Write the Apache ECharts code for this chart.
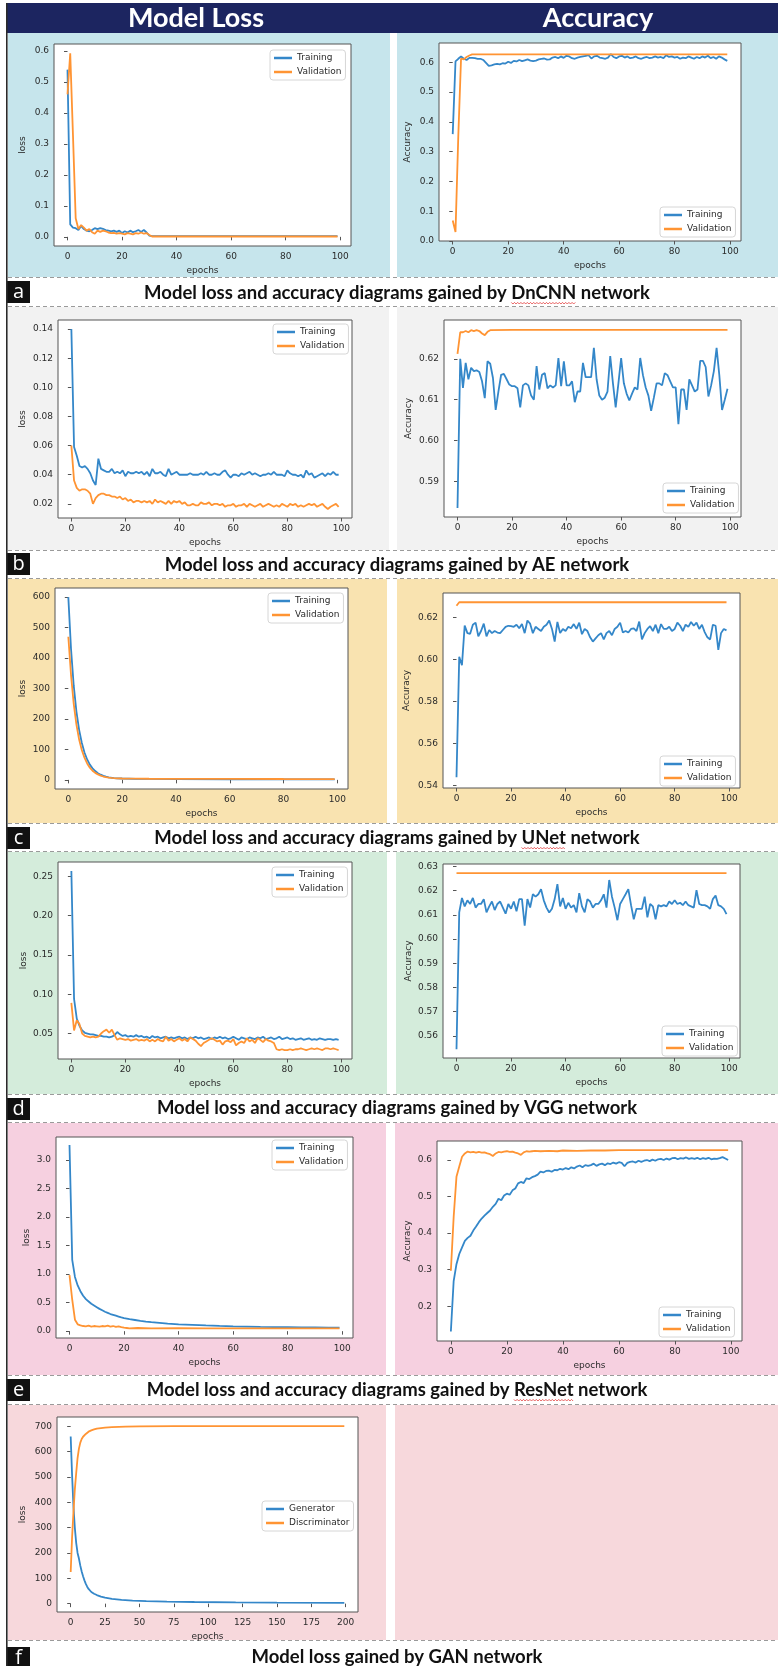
<!DOCTYPE html>
<html><head><meta charset="utf-8">
<script src="https://cdn.jsdelivr.net/npm/echarts@6/dist/echarts.min.js"></script>
<style>html,body{margin:0;padding:0;background:#fff}#c{width:778px;height:1666px}</style>
</head><body><div id="c"></div>
<script>
// ---------------- DATA ----------------
const epochTicks100 = [0, 20, 40, 60, 80, 100];
const epochTicks200 = [0, 25, 50, 75, 100, 125, 150, 175, 200];

const dncnnLossTicks = [0, 0.1, 0.2, 0.3, 0.4, 0.5, 0.6];
const dncnnAccTicks = [0, 0.1, 0.2, 0.3, 0.4, 0.5, 0.6];
const aeLossTicks = [0.02, 0.04, 0.06, 0.08, 0.10, 0.12, 0.14];
const aeAccTicks = [0.59, 0.60, 0.61, 0.62];
const unetLossTicks = [0, 100, 200, 300, 400, 500, 600];
const unetAccTicks = [0.54, 0.56, 0.58, 0.60, 0.62];
const vggLossTicks = [0.05, 0.10, 0.15, 0.20, 0.25];
const vggAccTicks = [0.56, 0.57, 0.58, 0.59, 0.60, 0.61, 0.62, 0.63];
const resnetLossTicks = [0, 0.5, 1.0, 1.5, 2.0, 2.5, 3.0];
const resnetAccTicks = [0.2, 0.3, 0.4, 0.5, 0.6];
const ganLossTicks = [0, 100, 200, 300, 400, 500, 600, 700];

// [epoch, value] pairs
const dncnnLossTrain = [[0,0.54],[1,0.04],[2,0.03],[3,0.028],[4,0.022],[5,0.035],[6,0.025],[7,0.02],[8,0.018],[9,0.022],[10,0.028],[11,0.025],[12,0.028],[13,0.026],[14,0.022],[15,0.02],[16,0.018],[17,0.02],[18,0.016],[19,0.02],[20,0.012],[21,0.018],[22,0.014],[23,0.02],[24,0.015],[25,0.018],[26,0.022],[27,0.016],[28,0.022],[29,0.014],[30,0.004],[31,0.002],[60,0.002],[99,0.002]];
const dncnnLossVal = [[0,0.46],[1,0.593],[2,0.33],[3,0.06],[4,0.025],[5,0.038],[6,0.03],[7,0.02],[8,0.025],[9,0.015],[10,0.01],[11,0.02],[12,0.016],[13,0.02],[14,0.018],[15,0.014],[16,0.012],[17,0.013],[18,0.01],[19,0.012],[20,0.01],[21,0.008],[22,0.012],[23,0.01],[24,0.008],[25,0.012],[26,0.01],[27,0.014],[28,0.01],[29,0.012],[30,0.006],[31,0.001],[60,0.001],[99,0.001]];
// one value per epoch
const dncnnAccTrain = [
.359,.603,.612,.620,.612,.608,.615,.615,.614,.612,
.612,.608,.598,.588,.590,.593,.595,.593,.597,.596,
.602,.598,.605,.603,.608,.604,.607,.610,.606,.604,
.606,.610,.612,.613,.609,.610,.616,.618,.614,.620,
.615,.622,.620,.614,.612,.616,.618,.620,.622,.624,
.613,.620,.622,.616,.614,.612,.616,.628,.618,.614,
.620,.622,.616,.620,.614,.616,.620,.614,.612,.616,
.618,.614,.616,.620,.616,.618,.614,.624,.618,.620,
.616,.618,.612,.616,.614,.620,.616,.612,.618,.614,
.620,.616,.622,.614,.618,.612,.620,.616,.610,.605];
const dncnnAccVal = [[0,0.069],[1,0.03],[2,0.35],[3,0.613],[4,0.61],[5,0.618],[6,0.623],[7,0.627],[20,0.627],[99,0.627]];

const aeLossTrain = [
.140,.059,.053,.046,.045,.046,.044,.041,.036,.033,
.051,.044,.043,.042,.042,.044,.041,.042,.041,.043,
.039,.042,.041,.041,.042,.041,.042,.040,.042,.039,
.044,.041,.041,.042,.040,.039,.044,.040,.041,.042,
.040,.040,.040,.040,.041,.040,.040,.040,.041,.040,
.042,.040,.040,.041,.040,.040,.042,.043,.040,.038,
.040,.040,.039,.041,.040,.041,.042,.040,.041,.040,
.039,.040,.040,.041,.040,.042,.040,.040,.040,.039,
.043,.041,.040,.040,.039,.040,.038,.043,.040,.041,
.038,.039,.040,.041,.039,.041,.040,.042,.040,.040];
const aeLossVal = [
.060,.036,.031,.029,.030,.030,.029,.027,.020,.024,
.026,.027,.027,.026,.026,.025,.025,.024,.025,.023,
.024,.022,.023,.021,.022,.022,.021,.022,.021,.022,
.020,.023,.021,.022,.021,.020,.022,.020,.022,.021,
.022,.020,.021,.019,.019,.020,.019,.019,.021,.020,
.020,.021,.019,.020,.020,.019,.020,.018,.019,.019,
.020,.018,.019,.019,.020,.018,.020,.019,.018,.019,
.020,.018,.019,.020,.019,.018,.019,.018,.020,.019,
.018,.020,.019,.020,.018,.019,.018,.019,.020,.019,
.020,.018,.019,.020,.018,.0165,.018,.019,.020,.018];
const aeAccTrain = [
.5835,.6200,.6129,.6190,.6150,.6178,.6170,.6172,.6168,.6145,
.6104,.6194,.6188,.6153,.6075,.6120,.6161,.6163,.6150,.6137,
.6133,.6133,.6128,.6081,.6135,.6140,.6135,.6110,.6100,.6182,
.6125,.6161,.6165,.6128,.6135,.6130,.6135,.6202,.6133,.6194,
.6135,.6135,.6145,.6094,.6120,.6120,.6190,.6155,.6155,.6155,
.6227,.6150,.6110,.6100,.6105,.6120,.6207,.6140,.6081,.6140,
.6202,.6140,.6115,.6098,.6115,.6130,.6125,.6202,.6160,.6130,
.6110,.6073,.6105,.6140,.6140,.6135,.6165,.6160,.6145,.6130,
.6130,.6040,.6125,.6125,.6075,.6150,.6135,.6120,.6125,.6195,
.6195,.6180,.6108,.6135,.6170,.6227,.6160,.6075,.6100,.6127];
const aeAccVal = [[0,0.6212],[1,0.6265],[2,0.6265],[3,0.6268],[4,0.6265],[5,0.627],[6,0.6268],[7,0.627],[8,0.6268],[9,0.6262],[10,0.6258],[11,0.6266],[12,0.627],[20,0.6271],[99,0.6271]];

const unetLossTrain = [[0,600],[1,430],[2,310],[3,225],[4,165],[5,122],[6,90],[7,67],[8,50],[9,38],[10,29],[11,22],[12,17],[13,13],[14,10.5],[15,8.5],[16,7],[17,6],[18,5.2],[20,4.5],[25,3.5],[30,3],[40,2.5],[60,2],[80,1.8],[99,1.6]];
const unetLossVal = [[0,470],[1,345],[2,250],[3,182],[4,133],[5,98],[6,73],[7,54],[8,40],[9,30],[10,23],[11,18],[12,14],[13,11],[14,9],[15,7.5],[16,6.5],[17,5.7],[18,5],[20,4.5],[25,4],[30,3.6],[40,3.2],[60,3],[80,2.8],[99,2.7]];
const unetAccTrain = [
.5439,.6012,.5972,.6161,.6125,.6122,.6165,.6175,.6110,.6135,
.6170,.6110,.6140,.6125,.6135,.6128,.6125,.6140,.6155,.6160,
.6158,.6155,.6165,.6148,.6168,.6125,.6185,.6170,.6125,.6155,
.6145,.6135,.6155,.6165,.6185,.6145,.6085,.6178,.6125,.6145,
.6135,.6155,.6148,.6168,.6145,.6175,.6120,.6145,.6135,.6105,
.6085,.6100,.6115,.6125,.6095,.6125,.6135,.6115,.6145,.6155,
.6175,.6128,.6135,.6128,.6145,.6148,.6135,.6180,.6095,.6125,
.6145,.6158,.6135,.6165,.6125,.6168,.6145,.6145,.6155,.6135,
.6145,.6175,.6160,.6135,.6165,.6155,.6178,.6160,.6175,.6145,
.6165,.6130,.6105,.6095,.6165,.6160,.6045,.6125,.6145,.6138];
const unetAccVal = [[0,0.6255],[1,0.6272],[99,0.6272]];

const vggLossTrain = [
.257,.094,.069,.060,.054,.051,.050,.049,.049,.048,
.047,.047,.046,.046,.045,.046,.048,.052,.049,.047,
.048,.046,.047,.046,.048,.046,.047,.045,.046,.044,
.047,.045,.046,.044,.045,.046,.044,.045,.044,.045,
.046,.044,.045,.043,.045,.044,.046,.044,.045,.043,
.044,.045,.043,.045,.044,.046,.044,.045,.043,.044,
.046,.044,.042,.045,.044,.043,.045,.044,.043,.045,
.044,.046,.043,.044,.045,.043,.044,.046,.043,.044,
.045,.043,.044,.042,.043,.044,.042,.043,.044,.042,
.043,.042,.044,.043,.042,.043,.043,.042,.043,.042];
const vggLossVal = [
.089,.054,.067,.062,.050,.047,.046,.045,.046,.045,
.046,.050,.053,.055,.051,.055,.048,.042,.044,.043,
.042,.043,.041,.042,.043,.041,.042,.041,.043,.040,
.042,.040,.043,.041,.040,.046,.041,.043,.040,.042,
.044,.041,.043,.040,.045,.043,.041,.037,.034,.038,
.040,.042,.044,.042,.040,.041,.036,.040,.041,.039,
.043,.035,.038,.040,.038,.044,.040,.042,.038,.044,
.042,.039,.043,.041,.040,.038,.030,.029,.030,.029,
.029,.030,.029,.030,.030,.031,.030,.029,.030,.031,
.030,.031,.030,.029,.031,.031,.030,.031,.030,.029];
const vggAccTrain = [
.5545,.6110,.6170,.6135,.6160,.6145,.6170,.6130,.6145,.6145,
.6165,.6110,.6135,.6155,.6120,.6145,.6155,.6130,.6105,.6145,
.6125,.6155,.6115,.6165,.6165,.6055,.6165,.6130,.6185,.6175,
.6185,.6206,.6160,.6130,.6110,.6125,.6165,.6227,.6135,.6170,
.6125,.6150,.6130,.6140,.6110,.6190,.6135,.6110,.6165,.6155,
.6130,.6145,.6145,.6160,.6185,.6130,.6244,.6175,.6130,.6078,
.6145,.6165,.6185,.6206,.6140,.6082,.6125,.6125,.6125,.6175,
.6090,.6145,.6135,.6082,.6140,.6135,.6140,.6135,.6155,.6145,
.6160,.6145,.6150,.6140,.6155,.6140,.6135,.6130,.6202,.6145,
.6140,.6140,.6135,.6125,.6165,.6180,.6140,.6135,.6125,.6103];
const vggAccVal = [[0,0.6272],[99,0.6272]];

const resnetLossTrain = [[0,3.26],[1,1.25],[2,0.95],[3,0.8],[4,0.7],[5,0.62],[6,0.56],[7,0.52],[8,0.48],[9,0.45],[10,0.42],[11,0.39],[12,0.365],[13,0.34],[14,0.32],[15,0.3],[16,0.285],[17,0.27],[18,0.255],[19,0.24],[20,0.228],[22,0.21],[24,0.195],[26,0.18],[28,0.168],[30,0.158],[33,0.145],[36,0.132],[40,0.12],[45,0.11],[50,0.1],[55,0.092],[60,0.085],[65,0.08],[70,0.075],[75,0.072],[80,0.069],[85,0.066],[90,0.064],[95,0.062],[99,0.061]];
const resnetLossVal = [[0,0.98],[1,0.55],[2,0.2],[3,0.12],[4,0.1],[5,0.09],[6,0.085],[7,0.095],[8,0.08],[9,0.09],[10,0.085],[11,0.08],[12,0.09],[13,0.085],[14,0.095],[15,0.08],[16,0.09],[17,0.075],[18,0.085],[19,0.07],[20,0.06],[21,0.055],[22,0.05],[25,0.055],[30,0.05],[40,0.052],[50,0.05],[60,0.05],[70,0.05],[80,0.05],[90,0.05],[99,0.048]];
const resnetAccTrain = [
.131,.269,.315,.343,.361,.379,.387,.393,.407,.418,
.430,.440,.448,.455,.462,.472,.480,.494,.490,.503,
.508,.505,.517,.522,.536,.540,.537,.550,.548,.553,
.556,.560,.568,.566,.570,.571,.568,.573,.572,.576,
.574,.578,.575,.580,.577,.582,.585,.580,.586,.584,
.586,.590,.584,.588,.590,.586,.591,.589,.593,.590,
.594,.592,.583,.592,.595,.596,.593,.598,.595,.598,
.600,.597,.601,.598,.602,.603,.600,.604,.601,.605,
.606,.602,.605,.604,.607,.603,.605,.603,.606,.602,
.605,.603,.606,.602,.604,.603,.605,.608,.604,.600];
const resnetAccVal = [[0,0.297],[1,0.444],[2,0.554],[3,0.582],[4,0.609],[5,0.618],[6,0.623],[7,0.621],[8,0.622],[9,0.62],[10,0.622],[11,0.62],[12,0.621],[13,0.618],[14,0.616],[15,0.611],[16,0.618],[17,0.622],[18,0.621],[19,0.623],[20,0.624],[21,0.622],[22,0.623],[23,0.62],[24,0.618],[25,0.614],[26,0.621],[27,0.624],[28,0.623],[29,0.624],[30,0.625],[32,0.624],[35,0.625],[38,0.624],[40,0.626],[45,0.625],[50,0.626],[55,0.626],[60,0.627],[70,0.627],[80,0.627],[99,0.627]];

const ganGenerator = [[0,660],[1,510],[2,385],[3,300],[4,240],[5,200],[6,178],[7,150],[8,127],[9,108],[10,92],[11,78],[12,67],[13,58],[14,51],[15,46],[16,42],[17,39],[18,36],[19,34],[20,32],[22,28],[25,24],[30,19],[37,15],[45,12],[55,10],[70,8],[90,6.5],[120,5],[150,4],[199,3]];
const ganDiscriminator = [[0,125],[1,260],[2,360],[3,450],[4,515],[5,575],[6,612],[7,636],[8,650],[9,659],[10,665],[11,670],[12,675],[13,679],[14,682],[15,684],[16,686],[17,688],[18,690],[19,691],[20,692],[25,695],[30,697],[40,699],[50,700],[75,701],[100,701],[150,701],[199,701]];

// ---------------- LAYOUT / STYLE ----------------
const BLUE = '#3487c9', ORANGE = '#ff9433';
const TF = 'DejaVu Sans';
const X100 = [-4.95, 103.95], X200 = [-9.95, 208.95];

const charts = [
  {g:[54,44,297,202],  x:X100, xt:epochTicks100, y:[-0.0296,0.6227], yt:dncnnLossTicks, d:1, yn:'loss', yg:27, leg:[270,50],  names:['Training','Validation'], s:[dncnnLossTrain, dncnnLossVal]},
  {g:[439,43,302,198], x:X100, xt:epochTicks100, y:[0,0.665], yt:dncnnAccTicks, d:1, yn:'Accuracy', yg:27, leg:[660,207], names:['Training','Validation'], s:[dncnnAccTrain, dncnnAccVal]},
  {g:[58,320,294,198], x:X100, xt:epochTicks100, y:[0.0103,0.1462], yt:aeLossTicks, d:2, yn:'loss', yg:31, leg:[273,324], names:['Training','Validation'], s:[aeLossTrain, aeLossVal]},
  {g:[444,320,297,197],x:X100, xt:epochTicks100, y:[0.5813,0.6295], yt:aeAccTicks, d:2, yn:'Accuracy', yg:31, leg:[663,483], names:['Training','Validation'], s:[aeAccTrain, aeAccVal]},
  {g:[55,588,293,201], x:X100, xt:epochTicks100, y:[-30,630], yt:unetLossTicks, d:0, yn:'loss', yg:28, leg:[268,593], names:['Training','Validation'], s:[unetLossTrain, unetLossVal]},
  {g:[443,593,297,195],x:X100, xt:epochTicks100, y:[0.5388,0.6316], yt:unetAccTicks, d:2, yn:'Accuracy', yg:32, leg:[660,756], names:['Training','Validation'], s:[unetAccTrain, unetAccVal]},
  {g:[58,862,294,197], x:X100, xt:epochTicks100, y:[0.0176,0.2684], yt:vggLossTicks, d:2, yn:'loss', yg:30, leg:[272,867], names:['Training','Validation'], s:[vggLossTrain, vggLossVal]},
  {g:[443,864,297,194],x:X100, xt:epochTicks100, y:[0.5509,0.6310], yt:vggAccTicks, d:2, yn:'Accuracy', yg:30, leg:[662,1026], names:['Training','Validation'], s:[vggAccTrain, vggAccVal]},
  {g:[56,1137,297,201],x:X100, xt:epochTicks100, y:[-0.12,3.40], yt:resnetLossTicks, d:1, yn:'loss', yg:25, leg:[272,1140], names:['Training','Validation'], s:[resnetLossTrain, resnetLossVal]},
  {g:[437,1141,305,200],x:X100, xt:epochTicks100, y:[0.105,0.652], yt:resnetAccTicks, d:1, yn:'Accuracy', yg:25, leg:[659,1307], names:['Training','Validation'], s:[resnetAccTrain, resnetAccVal]},
  {g:[57,1417,301,195],x:X200, xt:epochTicks200, y:[-33,737], yt:ganLossTicks, d:0, yn:'loss', yg:30, leg:[262,1501], names:['Generator','Discriminator'], s:[ganGenerator, ganDiscriminator]}
];

const rows = [
  {top:33,   bottom:277,  color:'#c6e5ec', lEnd:390, rStart:397, lab:'a', labTop:281, capY:293, next:307,  cap:'Model loss and accuracy diagrams gained by DnCNN network', wavy:'DnCNN'},
  {top:307,  bottom:550,  color:'#f2f2f2', lEnd:389, rStart:397, lab:'b', labTop:553, capY:565, next:579,  cap:'Model loss and accuracy diagrams gained by AE network'},
  {top:579,  bottom:823,  color:'#f9e3b0', lEnd:387, rStart:397, lab:'c', labTop:827, capY:838, next:852,  cap:'Model loss and accuracy diagrams gained by UNet network', wavy:'UNet'},
  {top:852,  bottom:1094, color:'#d4ecdb', lEnd:387, rStart:396, lab:'d', labTop:1098, capY:1108, next:1123, cap:'Model loss and accuracy diagrams gained by VGG network'},
  {top:1123, bottom:1375, color:'#f6d0e0', lEnd:386, rStart:395, lab:'e', labTop:1379, capY:1390, next:1405, cap:'Model loss and accuracy diagrams gained by ResNet network', wavy:'ResNet'},
  {top:1405, bottom:1640, color:'#f7d8dc', lEnd:386, rStart:395, lab:'f', labTop:1647, capY:1657, next:null, cap:'Model loss gained by GAN network'}
];

// ---------------- BUILD ----------------
const toPairs = a => (typeof a[0] === 'number') ? a.map((v, i) => [i, v]) : a;
const grid = [], xAxis = [], yAxis = [], series = [], legend = [];
charts.forEach((c, i) => {
  grid.push({left:c.g[0], top:c.g[1], width:c.g[2], height:c.g[3], show:true, backgroundColor:'#fff', borderColor:'#555', borderWidth:1, outerBoundsMode:'none', containLabel:false});
  const axCommon = {
    axisLine:{show:false}, splitLine:{show:false},
    axisTick:{show:true, length:3.5, lineStyle:{color:'#555', width:1}},
    axisLabel:{fontFamily:TF, fontSize:9, color:'#2b2b2b', margin:6},
    nameTextStyle:{fontFamily:TF, fontSize:9, color:'#2b2b2b'}
  };
  xAxis.push(Object.assign({}, axCommon, {
    type:'value', gridIndex:i, min:c.x[0], max:c.x[1],
    axisTick:Object.assign({}, axCommon.axisTick, {customValues:c.xt}),
    axisLabel:Object.assign({}, axCommon.axisLabel, {customValues:c.xt, formatter: v => String(Math.round(v))}),
    name:'epochs', nameLocation:'middle', nameGap:20
  }));
  yAxis.push(Object.assign({}, axCommon, {
    type:'value', gridIndex:i, min:c.y[0], max:c.y[1],
    axisTick:Object.assign({}, axCommon.axisTick, {customValues:c.yt}),
    axisLabel:Object.assign({}, axCommon.axisLabel, {customValues:c.yt, margin:5, formatter: v => Number(v).toFixed(c.d)}),
    name:c.yn, nameLocation:'middle', nameGap:c.yg, nameRotate:90
  }));
  c.s.forEach((d, k) => {
    series.push({type:'line', name:c.names[k], xAxisIndex:i, yAxisIndex:i, data:toPairs(d), symbol:'none', showSymbol:false,
      lineStyle:{width:1.8, color:k ? ORANGE : BLUE}, itemStyle:{color:k ? ORANGE : BLUE}, z:3+k, animation:false, clip:true});
  });
  legend.push({left:c.leg[0], top:c.leg[1], orient:'vertical', data:c.names, selectedMode:false,
    backgroundColor:'rgba(255,255,255,0.95)', borderColor:'#d6d6d6', borderWidth:1, borderRadius:3,
    padding:[2,4,2,4], itemGap:2, itemWidth:18, itemHeight:2.5, icon:'rect',
    textStyle:{fontFamily:TF, fontSize:9, color:'#2b2b2b', lineHeight:12}});
});

// decorations
const G = [];
const Z = -10;
G.push({type:'rect', z:Z, shape:{x:7, y:3, width:771, height:30}, style:{fill:'#1c2560'}});
G.push({type:'text', z:Z+1, x:196, y:18, style:{text:'Model Loss', fill:'#fff', font:'bold 27px Lato', align:'center', verticalAlign:'middle'}});
G.push({type:'text', z:Z+1, x:598, y:18, style:{text:'Accuracy', fill:'#fff', font:'bold 27px Lato', align:'center', verticalAlign:'middle'}});
const CAPFONT = 'bold 18.5px Lato';
const meas = document.createElement('canvas').getContext('2d');
meas.font = CAPFONT;
rows.forEach(r => {
  G.push({type:'rect', z:Z, shape:{x:8, y:r.top, width:r.lEnd-8, height:r.bottom-r.top}, style:{fill:r.color}});
  G.push({type:'rect', z:Z, shape:{x:r.rStart, y:r.top, width:778-r.rStart, height:r.bottom-r.top}, style:{fill:r.color}});
  G.push({type:'line', z:Z+1, shape:{x1:8, y1:r.bottom+0.5, x2:778, y2:r.bottom+0.5}, style:{stroke:'#9a9a9a', lineWidth:1.2, lineDash:[4,3]}});
  if (r.next) G.push({type:'line', z:Z+1, shape:{x1:8, y1:r.next-0.5, x2:778, y2:r.next-0.5}, style:{stroke:'#9a9a9a', lineWidth:1.2, lineDash:[4,3]}});
  G.push({type:'rect', z:Z+1, shape:{x:7, y:r.labTop, width:23, height:22}, style:{fill:'#111'}});
  G.push({type:'text', z:Z+2, x:18.5, y:r.labTop+11, style:{text:r.lab, fill:'#fff', font:'20px "Open Sans"', align:'center', verticalAlign:'middle'}});
  G.push({type:'text', z:Z+1, x:397, y:r.capY, style:{text:r.cap, fill:'#111', font:CAPFONT, align:'center', verticalAlign:'middle'}});
  if (r.wavy) {
    const W = meas.measureText(r.cap).width;
    const idx = r.cap.indexOf(r.wavy);
    const x0 = 397 - W/2 + meas.measureText(r.cap.slice(0, idx)).width;
    const w = meas.measureText(r.wavy).width;
    const pts = [];
    for (let k = 0; k * 1.6 <= w; k++) pts.push([x0 + k*1.6, r.capY + 10 + (k % 2 ? 1 : -0.6)]);
    G.push({type:'polyline', z:Z+2, shape:{points:pts}, style:{stroke:'#e23b3b', lineWidth:0.8, fill:null}});
  }
});
G.push({type:'rect', z:Z+3, shape:{x:6, y:3, width:1.6, height:1663}, style:{fill:'#2a2a2a'}});

const chart = echarts.init(document.getElementById('c'), null, {renderer:'canvas'});
chart.setOption({animation:false, backgroundColor:'#fff', graphic:{elements:G}, grid, xAxis, yAxis, series, legend});
</script></body></html>
